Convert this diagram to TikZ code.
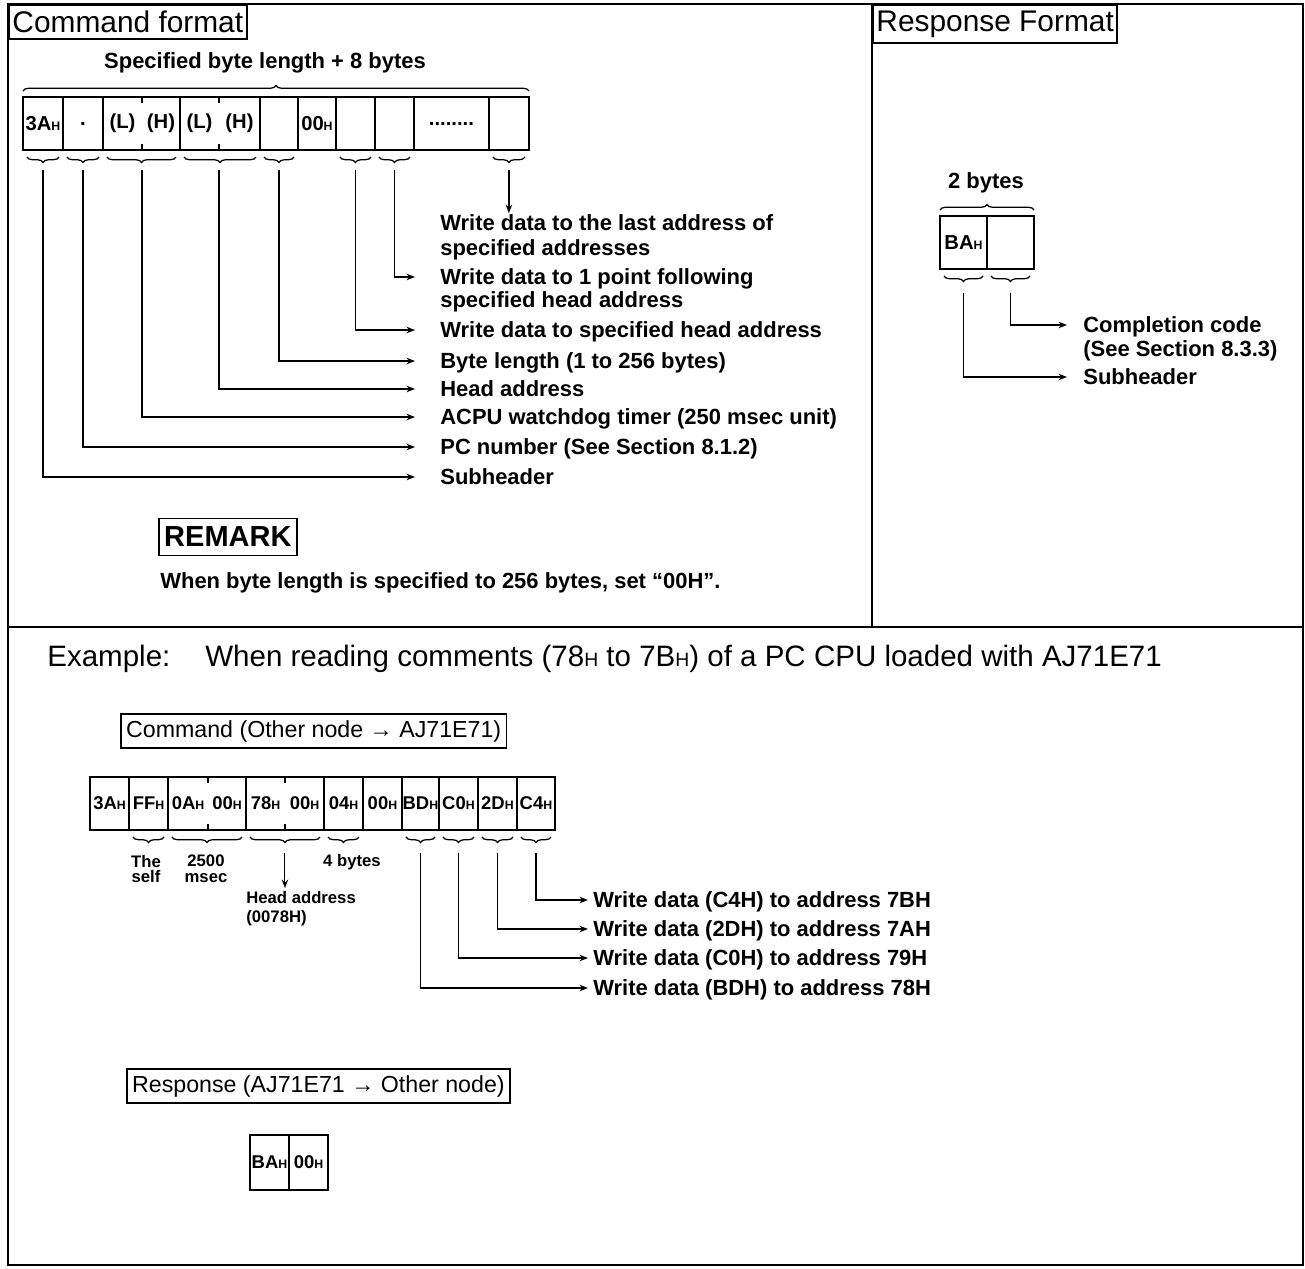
\documentclass[tikz,border=0pt]{standalone}
\usepackage{fontspec}
\setmainfont{Liberation Sans}
\usetikzlibrary{positioning,arrows.meta,decorations.pathreplacing}
% small H suffix for hex values
\newcommand{\hx}[1]{#1{\fontsize{7}{8}\selectfont H}}
\newcommand{\bigH}{{\fontsize{11}{12}\selectfont H}}
\tikzset{
  cell-box/.style={draw,line width=1.1pt,minimum height=10.6mm,inner sep=0pt,
    outer sep=0pt,font=\fontsize{10.5}{12}\selectfont\bfseries},
  cell-half/.style={cell-box,draw=none},
  cell-line/.style={line width=1.1pt},
  title-box/.style={draw,line width=1.1pt,anchor=north west,inner xsep=2pt,
    minimum height=6.8mm,font=\fontsize{17}{20}\selectfont},
  sub-box/.style={draw,line width=1pt,anchor=west,inner xsep=3pt,
    minimum height=6.2mm,font=\fontsize{13.2}{16}\selectfont},
  note-text/.style={anchor=west,inner sep=0pt,text height=8.5pt,text depth=0pt,
    font=\fontsize{12.5}{15}\selectfont\bfseries},
  head-text/.style={inner sep=0pt,font=\fontsize{12.5}{15}\selectfont\bfseries},
  small-text/.style={inner sep=0pt,align=center,font=\fontsize{9.5}{9}\selectfont\bfseries},
  brace-under/.style={decorate,decoration={brace,mirror,amplitude=1.1mm},line width=0.7pt},
  brace-over/.style={decorate,decoration={brace,amplitude=1.1mm},line width=0.7pt},
  leader/.style={-{Stealth[length=1.7mm,width=1.3mm]},line width=0.8pt},
  frame/.style={line width=1.5pt},
}
\begin{document}
\begin{tikzpicture}[x=0.02cm,y=-0.02cm]
  \useasboundingbox (0,0) rectangle (1305,1268);
  % frame
  \draw[frame] (8,4) rectangle (1303,1265);
  \draw[frame] (8,627) -- (1303,627);
  \draw[frame] (872,4) -- (872,627);
  \node[title-box] (t-cmd) at (8,4) {Command format};
  \node[title-box] (t-resp) at (872,4) {Response Format};

  % command format
  \node[head-text] (cmd-len) at (265,63) {Specified byte length + 8 bytes};
  \begin{scope}[cell-box/.append style={font=\fontsize{11.5}{13}\selectfont\bfseries}]
  \node[cell-box,minimum width=8mm,anchor=north west] (c1) at (23,97) {\hx{3A}};
  \node[cell-box,minimum width=8mm,right=0pt of c1] (c2) {.};
  \node[cell-half,minimum width=7.8mm,right=0pt of c2] (c3l) {(L)};
  \node[cell-half,minimum width=7.6mm,right=0pt of c3l] (c3h) {(H)};
  \node[cell-half,minimum width=7.8mm,right=0pt of c3h] (c4l) {(L)};
  \node[cell-half,minimum width=8.2mm,right=0pt of c4l] (c4h) {(H)};
  \node[cell-box,minimum width=7.6mm,right=0pt of c4h] (c5) {};
  \node[cell-box,minimum width=7.6mm,right=0pt of c5] (c6) {\hx{00}};
  \node[cell-box,minimum width=7.8mm,right=0pt of c6] (c7) {};
  \node[cell-box,minimum width=7.8mm,right=0pt of c7] (c8) {};
  \node[cell-box,minimum width=15mm,right=0pt of c8] (c9) {\raisebox{-2pt}{........}};
  \node[cell-box,minimum width=8mm,right=0pt of c9] (c10) {};
  \end{scope}
  \foreach \a/\b in {c3l/c3h,c4l/c4h} {
    \draw[cell-line] (\a.north west) rectangle (\b.south east);
    \draw[cell-line] (\a.north east) -- ++(0,6);
    \draw[cell-line] (\a.south east) -- ++(0,-6);
  }
  \draw[brace-over] ([yshift=1.2mm]c1.north west) -- ([yshift=1.2mm]c10.north east);
  \foreach \a/\b in {c1/c1,c2/c2,c3l/c3h,c4l/c4h,c5/c5,c7/c7,c8/c8,c10/c10}
    \draw[brace-under] ([xshift=0.8mm,yshift=-1.4mm]\a.south west) -- ([xshift=-0.8mm,yshift=-1.4mm]\b.south east);

  \node[note-text] (n-last1) at (440,223) {Write data to the last address of};
  \node[note-text] (n-last2) at (440,248) {specified addresses};
  \node[note-text] (n-next1) at (440,277) {Write data to 1 point following};
  \node[note-text] (n-next2) at (440,300) {specified head address};
  \node[note-text] (n-head) at (440,330) {Write data to specified head address};
  \node[note-text] (n-len) at (440,361) {Byte length (1 to 256 bytes)};
  \node[note-text] (n-addr) at (440,389) {Head address};
  \node[note-text] (n-wdt) at (440,417) {ACPU watchdog timer (250 msec unit)};
  \node[note-text] (n-pc) at (440,447) {PC number (See Section 8.1.2)};
  \node[note-text] (n-sub) at (440,477) {Subheader};

  \draw[leader,shorten >=0.4mm] ([yshift=-4mm]c10.south) -- (c10.south |- n-last1.north);
  \draw[leader,shorten >=5mm] ([yshift=-4mm]c8.south) |- (n-next1.west);
  \draw[leader,shorten >=5mm] ([yshift=-4mm]c7.south) |- (n-head.west);
  \draw[leader,shorten >=5mm] ([yshift=-4mm]c5.south) |- (n-len.west);
  \draw[leader,shorten >=5mm] ([yshift=-4mm]c4l.south east) |- (n-addr.west);
  \draw[leader,shorten >=5mm] ([yshift=-4mm]c3l.south east) |- (n-wdt.west);
  \draw[leader,shorten >=5mm] ([yshift=-4mm]c2.south) |- (n-pc.west);
  \draw[leader,shorten >=5mm] ([yshift=-4mm]c1.south) |- (n-sub.west);

  \node[draw,line width=1.1pt,anchor=west,inner xsep=3pt,minimum height=7.4mm,
    font=\fontsize{16.5}{19}\selectfont\bfseries] (remark) at (158,537) {REMARK};
  \node[note-text] (remark-txt) at (160,581) {When byte length is specified to 256 bytes, set “00H”.};

  % response format
  \node[head-text] (r-len) at (986,183) {2 bytes};
  \node[cell-box,minimum width=9.4mm,anchor=north west,font=\fontsize{11.5}{13}\selectfont\bfseries] (r1) at (940,216) {\hx{BA}};
  \node[cell-box,minimum width=9.4mm,right=0pt of r1] (r2) {};
  \draw[brace-over] ([yshift=1.2mm]r1.north west) -- ([yshift=1.2mm]r2.north east);
  \foreach \a in {r1,r2}
    \draw[brace-under] ([xshift=0.8mm,yshift=-1.4mm]\a.south west) -- ([xshift=-0.8mm,yshift=-1.4mm]\a.south east);
  \node[note-text] (r-code1) at (1083,325) {Completion code};
  \node[note-text] (r-code2) at (1083,349) {(See Section 8.3.3)};
  \node[note-text] (r-sub) at (1083,377) {Subheader};
  \draw[leader,shorten >=3.2mm] ([yshift=-4.8mm]r2.south) |- (r-code1.west);
  \draw[leader,shorten >=3.2mm] ([yshift=-4.8mm]r1.south) |- (r-sub.west);

  % example
  \node[anchor=west,inner sep=0pt,font=\fontsize{16.8}{19}\selectfont] (ex-lbl) at (47,659) {Example:};
  \node[anchor=west,inner sep=0pt,font=\fontsize{16.8}{19}\selectfont] (ex-txt) at (205,659)
    {When reading comments (78\bigH{} to 7B\bigH) of a PC CPU loaded with AJ71E71};
  \node[sub-box] (ex-cmd) at (120,731) {Command (Other node → AJ71E71)};

  \node[cell-box,minimum width=7.8mm,anchor=north west] (e1) at (90,777) {\hx{3A}};
  \node[cell-box,minimum width=7.8mm,right=0pt of e1] (e2) {\hx{FF}};
  \node[cell-half,minimum width=8mm,right=0pt of e2] (e3l) {\hx{0A}};
  \node[cell-half,minimum width=7.6mm,right=0pt of e3l] (e3h) {\hx{00}};
  \node[cell-half,minimum width=7.8mm,right=0pt of e3h] (e4l) {\hx{78}};
  \node[cell-half,minimum width=7.8mm,right=0pt of e4l] (e4h) {\hx{00}};
  \node[cell-box,minimum width=7.8mm,right=0pt of e4h] (e5) {\hx{04}};
  \node[cell-box,minimum width=7.8mm,right=0pt of e5] (e6) {\hx{00}};
  \node[cell-box,minimum width=7.4mm,right=0pt of e6] (e7) {\hx{BD}};
  \node[cell-box,minimum width=7.8mm,right=0pt of e7] (e8) {\hx{C0}};
  \node[cell-box,minimum width=7.8mm,right=0pt of e8] (e9) {\hx{2D}};
  \node[cell-box,minimum width=7.6mm,right=0pt of e9] (e10) {\hx{C4}};
  \foreach \a/\b in {e3l/e3h,e4l/e4h} {
    \draw[cell-line] (\a.north west) rectangle (\b.south east);
    \draw[cell-line] (\a.north east) -- ++(0,6);
    \draw[cell-line] (\a.south east) -- ++(0,-6);
  }
  \foreach \a/\b in {e2/e2,e3l/e3h,e4l/e4h,e5/e5,e7/e7,e8/e8,e9/e9,e10/e10}
    \draw[brace-under] ([xshift=0.8mm,yshift=-1.4mm]\a.south west) -- ([xshift=-0.8mm,yshift=-1.4mm]\b.south east);

  \node[small-text] (ex-self) at (146,869) {The\\self};
  \node[small-text] (ex-msec) at (206,869) {2500\\msec};
  \node[small-text] (ex-len) at (352,862) {4 bytes};
  \node[small-text,align=left,anchor=north west] (ex-head) at (246,891) {Head address\\[2pt](0078H)};
  \draw[leader,line width=0.6pt,shorten >=0.6mm] ([yshift=-4.6mm]e4l.south east) -- (e4l.south east |- ex-head.north);

  \node[note-text] (ex-w4) at (593,900) {Write data (C4H) to address 7BH};
  \node[note-text] (ex-w3) at (593,929) {Write data (2DH) to address 7AH};
  \node[note-text] (ex-w2) at (593,958) {Write data (C0H) to address 79H};
  \node[note-text] (ex-w1) at (593,988) {Write data (BDH) to address 78H};
  \draw[leader,shorten >=1mm] ([yshift=-4.6mm]e10.south) |- (ex-w4.west);
  \draw[leader,shorten >=1mm] ([yshift=-4.6mm]e9.south) |- (ex-w3.west);
  \draw[leader,shorten >=1mm] ([yshift=-4.6mm]e8.south) |- (ex-w2.west);
  \draw[leader,shorten >=1mm] ([yshift=-4.6mm]e7.south) |- (ex-w1.west);

  \node[sub-box] (ex-resp) at (126,1086) {Response (AJ71E71 → Other node)};
  \node[cell-box,minimum width=7.8mm,minimum height=11mm,anchor=north west] (p1) at (250,1135) {\hx{BA}};
  \node[cell-box,minimum width=7.8mm,minimum height=11mm,right=0pt of p1] (p2) {\hx{00}};
\end{tikzpicture}
\end{document}
